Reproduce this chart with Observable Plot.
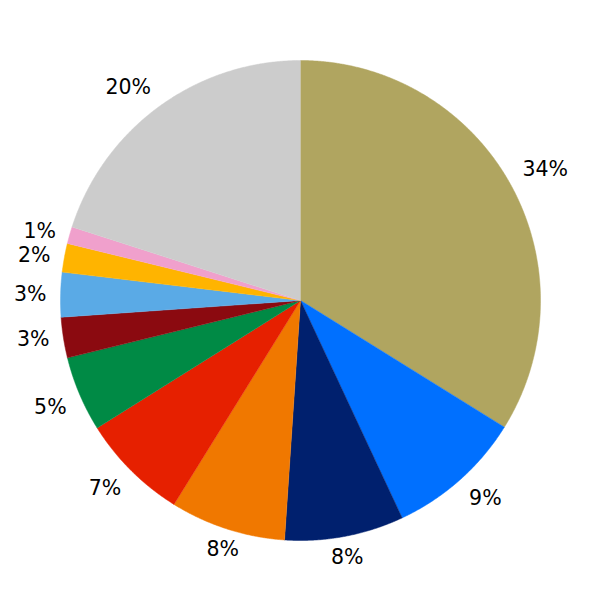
<!DOCTYPE html>
<html><head><meta charset="utf-8">
<script src="https://cdn.jsdelivr.net/npm/d3@7"></script>
<script src="https://cdn.jsdelivr.net/npm/@observablehq/plot@0.6"></script>
<style>body{margin:0;background:#fff} svg{display:block}</style>
</head><body><div id="chart"></div>
<script>
const categories = ["S1","S2","S3","S4","S5","S6","S7","S8","S9","S10","S11"];
const values = [33.85, 9.19, 8.02, 7.78, 7.25, 5.07, 2.73, 3.00, 1.93, 1.14, 20.04];
const colors = ["#b0a560","#0070ff","#00206e","#f07800","#e62000","#008a45","#8b0a10","#5aaae6","#ffb400","#f0a0cc","#cccccc"];

const R = 240, labelR = 254, fontSize = 20.5;
const total = d3.sum(values);
const arcs = d3.pie().sort(null).value(d => d)(values);

const slicePts = [];
arcs.forEach((a, i) => {
  slicePts.push({cat: categories[i], x: 0, y: 0});
  const n = Math.max(2, Math.ceil((a.endAngle - a.startAngle) / 0.004));
  for (let k = 0; k <= n; k++) {
    const t = a.startAngle + (a.endAngle - a.startAngle) * k / n;
    slicePts.push({cat: categories[i], x: R * Math.sin(t), y: R * Math.cos(t)});
  }
});

function textWidth(s) {
  let w = 0;
  for (const c of s) w += (c === "%" ? 0.95 : 0.636);
  return w * fontSize;
}
const labels = arcs.map((a, i) => {
  const text = Math.round(values[i] / total * 100) + "%";
  const m = (a.startAngle + a.endAngle) / 2;
  let deg = 90 - m * 180 / Math.PI;
  deg = ((deg % 360) + 360) % 360;
  let ax, ay;
  if (deg <= 22.5 || deg >= 337.5) { ax = 1; ay = 0; }
  else if (deg < 67.5) { ax = 1; ay = 1; }
  else if (deg < 112.5) { ax = 0; ay = 1; }
  else if (deg < 157.5) { ax = -1; ay = 1; }
  else if (deg < 202.5) { ax = -1; ay = 0; }
  else if (deg < 247.5) { ax = -1; ay = -1; }
  else if (deg < 292.5) { ax = 0; ay = -1; }
  else { ax = 1; ay = -1; }
  const hw = textWidth(text) / 2, hh = 7.5;
  return {
    text,
    x: labelR * Math.sin(m) + ax * hw,
    y: labelR * Math.cos(m) + ay * hh
  };
});

const chart = Plot.plot({
  width: 600, height: 600, margin: 0,
  x: {domain: [-300, 300], axis: null},
  y: {domain: [-300, 300], axis: null},
  color: {domain: categories, range: colors},
  style: {fontFamily: "DejaVu Sans", background: "#fff"},
  marks: [
    Plot.line(slicePts, {x: "x", y: "y", z: "cat", fill: "cat", stroke: "cat", strokeWidth: 0.5}),
    Plot.text(labels, {x: "x", y: "y", text: "text", fontSize: fontSize, fill: "#000"})
  ]
});
document.getElementById("chart").appendChild(chart);
</script>
</body></html>
